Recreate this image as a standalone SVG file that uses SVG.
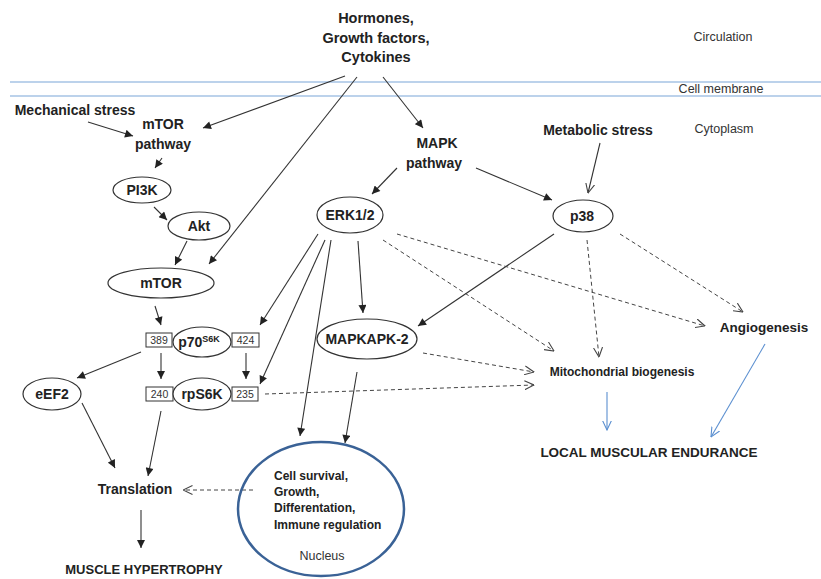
<svg xmlns="http://www.w3.org/2000/svg" width="821" height="579" viewBox="0 0 821 579">
<style>
  text { font-family: "Liberation Sans", Arial, sans-serif; fill: #222; }
  .b { font-weight: bold; }
  .t14 { font-size: 13.5px; }
  .t13 { font-size: 14px; }
  .t12 { font-size: 14px; }
  .n11 { font-size: 12.5px; fill: #333; }
  .num { font-size: 10.5px; fill: #333; }
  .nuc { font-size: 12px; font-weight: bold; }
  .node { fill: #fff; stroke: #333; stroke-width: 1.2; }
  .box { fill: #fff; stroke: #333; stroke-width: 1; }
  .c { fill: none; stroke: #333; stroke-width: 1.1; }
  .d { fill: none; stroke: #444; stroke-width: 1; stroke-dasharray: 4 3; }
  .bl { fill: none; stroke: #5b8fd0; stroke-width: 1.1; }
  .mem { stroke: #7aa6d8; stroke-width: 1.2; }
</style>
<defs>
  <marker id="arr" viewBox="0 0 10 10" refX="10" refY="5" markerWidth="9" markerHeight="8" markerUnits="userSpaceOnUse" orient="auto">
    <path d="M0,0 L10,5 L0,10 z" fill="#222"/>
  </marker>
  <marker id="open" viewBox="0 0 10 10" refX="9.5" refY="5" markerWidth="10" markerHeight="10" markerUnits="userSpaceOnUse" orient="auto">
    <path d="M0,0.5 L9.5,5 L0,9.5" fill="none" stroke="#444" stroke-width="1.1"/>
  </marker>
  <marker id="openb" viewBox="0 0 10 10" refX="9.5" refY="5" markerWidth="10" markerHeight="10" markerUnits="userSpaceOnUse" orient="auto">
    <path d="M0,0.5 L9.5,5 L0,9.5" fill="none" stroke="#5b8fd0" stroke-width="1.1"/>
  </marker>
</defs>
<rect width="821" height="579" fill="#fff"/>

<g id="membrane">
  <line class="mem" x1="10" y1="82" x2="821" y2="82"/>
  <line class="mem" x1="10" y1="96" x2="821" y2="96"/>
  <text class="n11" font-size="13" x="723" y="41" text-anchor="middle">Circulation</text>
  <text class="n11" x="721" y="93" text-anchor="middle">Cell membrane</text>
  <text class="n11" x="724" y="133" text-anchor="middle">Cytoplasm</text>
</g>

<g id="connectors">
  <line class="c" x1="88" y1="122" x2="133" y2="136" marker-end="url(#arr)"/>
  <line class="c" x1="345" y1="76" x2="203" y2="128" marker-end="url(#arr)"/>
  <line class="c" x1="357" y1="77" x2="209" y2="264" marker-end="url(#arr)"/>
  <line class="c" x1="383" y1="77" x2="423" y2="128" marker-end="url(#arr)"/>
  <line class="c" x1="162" y1="158" x2="155" y2="168" marker-end="url(#arr)"/>
  <line class="c" x1="154" y1="207" x2="167" y2="220" marker-end="url(#arr)"/>
  <line class="c" x1="187" y1="241" x2="175" y2="265" marker-end="url(#arr)"/>
  <line class="c" x1="155" y1="306" x2="161" y2="325" marker-end="url(#arr)"/>
  <line class="c" x1="141" y1="352" x2="77" y2="378" marker-end="url(#arr)"/>
  <line class="c" x1="161" y1="353" x2="161" y2="379" marker-end="url(#arr)"/>
  <line class="c" x1="246" y1="353" x2="246" y2="379" marker-end="url(#arr)"/>
  <line class="c" x1="397" y1="168" x2="372" y2="194" marker-end="url(#arr)"/>
  <line class="c" x1="476" y1="168" x2="552" y2="200" marker-end="url(#arr)"/>
  <line class="c" x1="318" y1="234" x2="260" y2="325" marker-end="url(#arr)"/>
  <line class="c" x1="325" y1="240" x2="260" y2="384" marker-end="url(#arr)"/>
  <line class="c" x1="331" y1="240" x2="300" y2="436" marker-end="url(#arr)"/>
  <line class="c" x1="358" y1="241" x2="363" y2="313" marker-end="url(#arr)"/>
  <line class="c" x1="554" y1="234" x2="418" y2="326" marker-end="url(#arr)"/>
  <line class="c" x1="357" y1="372" x2="345" y2="443" marker-end="url(#arr)"/>
  <line class="c" x1="82" y1="403" x2="115" y2="468" marker-end="url(#arr)"/>
  <line class="c" x1="161" y1="411" x2="148" y2="476" marker-end="url(#arr)"/>
  <line class="c" x1="141" y1="510" x2="141" y2="548" marker-end="url(#arr)"/>
  <line class="c" x1="600" y1="143" x2="588" y2="193" marker-end="url(#open)"/>
  <line class="d" x1="397" y1="234" x2="705" y2="326" marker-end="url(#open)"/>
  <line class="d" x1="383" y1="240" x2="554" y2="351" marker-end="url(#open)"/>
  <line class="d" x1="587" y1="240" x2="599" y2="357" marker-end="url(#open)"/>
  <line class="d" x1="620" y1="234" x2="743" y2="312" marker-end="url(#open)"/>
  <line class="d" x1="423" y1="353" x2="534" y2="372" marker-end="url(#open)"/>
  <line class="d" x1="265" y1="394" x2="534" y2="385" marker-end="url(#open)"/>
  <line class="d" x1="253" y1="490" x2="183" y2="490" marker-end="url(#open)"/>
  <line class="bl" x1="607" y1="392" x2="607" y2="430" marker-end="url(#openb)"/>
  <line class="bl" x1="765" y1="344" x2="711" y2="437" marker-end="url(#openb)"/>
</g>

<g id="hormones">
  <text class="b" font-size="14.5" x="376" y="23" text-anchor="middle">Hormones,</text>
  <text class="b" font-size="14.5" x="376" y="43" text-anchor="middle">Growth factors,</text>
  <text class="b" font-size="14.5" x="376" y="62" text-anchor="middle">Cytokines</text>
</g>
<g id="mechanical-stress"><text class="b t13" x="75" y="115" text-anchor="middle">Mechanical stress</text></g>
<g id="mtor-pathway">
  <text class="b t13" x="163" y="129" text-anchor="middle">mTOR</text>
  <text class="b t13" x="163" y="149" text-anchor="middle">pathway</text>
</g>
<g id="mapk-pathway">
  <text class="b t13" x="437" y="148" text-anchor="middle">MAPK</text>
  <text class="b t13" x="434" y="168" text-anchor="middle">pathway</text>
</g>
<g id="metabolic-stress"><text class="b t13" x="598" y="135" text-anchor="middle">Metabolic stress</text></g>
<g id="pi3k">
  <ellipse class="node" cx="142" cy="190" rx="29" ry="13"/>
  <text class="b t12" x="142" y="195" text-anchor="middle">PI3K</text>
</g>
<g id="akt">
  <ellipse class="node" cx="199" cy="226" rx="31" ry="14"/>
  <text class="b t13" x="199" y="231" text-anchor="middle">Akt</text>
</g>
<g id="mtor">
  <ellipse class="node" cx="161" cy="283" rx="53" ry="15"/>
  <text class="b t13" x="161" y="288" text-anchor="middle">mTOR</text>
</g>
<g id="p70s6k">
  <rect class="box" x="146" y="333" width="26" height="14"/>
  <text class="num" x="159" y="344" text-anchor="middle">389</text>
  <ellipse class="node" cx="202" cy="342" rx="29" ry="15"/>
  <text class="b t13" x="199" y="347" text-anchor="middle">p70<tspan font-size="9" dy="-5">S6K</tspan></text>
  <rect class="box" x="232" y="333" width="27" height="14"/>
  <text class="num" x="245.5" y="344" text-anchor="middle">424</text>
</g>
<g id="rps6k">
  <rect class="box" x="146" y="387" width="27" height="14"/>
  <text class="num" x="159.5" y="398" text-anchor="middle">240</text>
  <ellipse class="node" cx="202" cy="394" rx="29" ry="16"/>
  <text class="b t13" x="202" y="399" text-anchor="middle">rpS6K</text>
  <rect class="box" x="232" y="387" width="26" height="14"/>
  <text class="num" x="245" y="398" text-anchor="middle">235</text>
</g>
<g id="eef2">
  <ellipse class="node" cx="52" cy="394" rx="29" ry="16"/>
  <text class="b t13" x="52" y="399" text-anchor="middle">eEF2</text>
</g>
<g id="erk12">
  <ellipse class="node" cx="350" cy="215" rx="33" ry="18"/>
  <text class="b t13" x="350" y="220" text-anchor="middle">ERK1/2</text>
</g>
<g id="p38">
  <ellipse class="node" cx="583" cy="216" rx="30" ry="16"/>
  <text class="b t13" x="582" y="221" text-anchor="middle">p38</text>
</g>
<g id="mapkapk2">
  <ellipse class="node" cx="367" cy="339" rx="50" ry="20"/>
  <text class="b t13" x="367" y="344" text-anchor="middle">MAPKAPK-2</text>
</g>
<g id="angiogenesis"><text class="b t14" x="764" y="332" text-anchor="middle">Angiogenesis</text></g>
<g id="mitochondrial-biogenesis"><text class="b" font-size="12" x="622" y="376" text-anchor="middle">Mitochondrial biogenesis</text></g>
<g id="local-muscular-endurance"><text class="b t14" x="649" y="457" text-anchor="middle">LOCAL MUSCULAR ENDURANCE</text></g>
<g id="translation"><text class="b t13" x="135" y="494" text-anchor="middle">Translation</text></g>
<g id="muscle-hypertrophy"><text class="b" font-size="13" x="144" y="574" text-anchor="middle">MUSCLE HYPERTROPHY</text></g>
<g id="nucleus">
  <ellipse cx="321" cy="509" rx="83" ry="67" fill="none" stroke="#3a6296" stroke-width="2.5"/>
  <text class="nuc" x="274" y="480">Cell survival,</text>
  <text class="nuc" x="274" y="496">Growth,</text>
  <text class="nuc" x="274" y="512">Differentation,</text>
  <text class="nuc" x="274" y="529">Immune regulation</text>
  <text class="n11" font-size="11.5" x="322" y="560" text-anchor="middle">Nucleus</text>
</g>
</svg>
